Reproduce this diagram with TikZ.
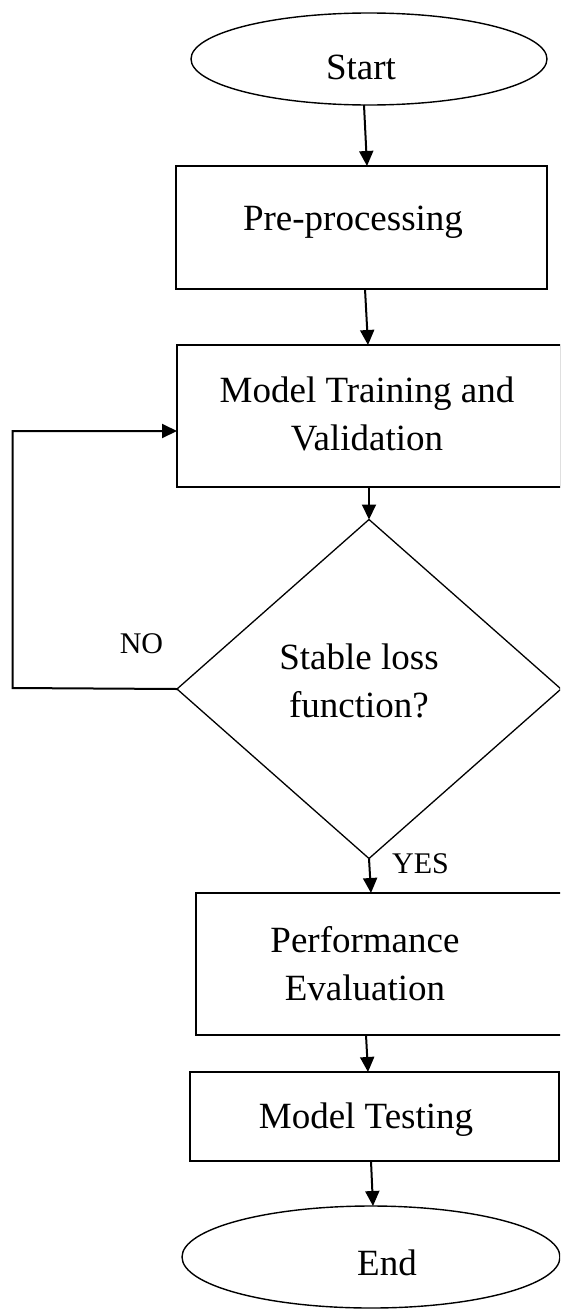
\documentclass[tikz,border=0pt]{standalone}
\usepackage{fontspec}
\setmainfont{Liberation Serif}
\usetikzlibrary{shapes.geometric,arrows.meta}
\begin{document}
\begin{tikzpicture}[x=1pt,y=-1pt,
  box/.style={draw, rectangle, line width=1.8pt, inner sep=0pt, outer sep=0pt},
  terminal/.style={draw, ellipse, line width=1.4pt, inner sep=0pt, outer sep=0pt},
  decision/.style={draw, diamond, line width=1.3pt, inner sep=0pt, outer sep=0pt},
  txt/.style={font={\fontsize{37pt}{48pt}\selectfont}, inner sep=0pt, align=center},
  oneline/.style={txt, text height=25pt, text depth=8pt},
  tag/.style={font={\fontsize{30pt}{36pt}\selectfont}, inner sep=0pt, text height=20pt, text depth=6pt},
  flow/.style={line width=2pt, -{Triangle[length=15pt,width=14pt]}}
]
\path[use as bounding box] (0,0) rectangle (560,1309);
\clip (0,0) rectangle (560,1309);

% shapes
\node[terminal, minimum width=356pt, minimum height=92pt] (start) at (369,59) {};
\node[box, minimum width=371pt, minimum height=123pt] (pre) at (361.5,227.5) {};
\node[box, minimum width=384pt, minimum height=142pt] (train) at (369,416) {};
\node[decision, minimum width=384pt, minimum height=339pt] (dec) at (369,689) {};
\node[box, minimum width=366pt, minimum height=142pt] (perf) at (379,964) {};
\node[box, minimum width=369pt, minimum height=89pt] (test) at (374.5,1116.5) {};
\node[terminal, minimum width=378pt, minimum height=102pt] (stop) at (371,1257) {};

% texts
\node[oneline] (start-t) at (361,70.5) {Start};
\node[oneline] (pre-t) at (353,221.5) {Pre-processing};
\node[txt] (train-t) at (367,413.5) {Model Training and\\Validation};
\node[txt] (dec-t) at (359,680.5) {Stable loss\\function?};
\node[txt] (perf-t) at (365,963.5) {Performance\\Evaluation};
\node[oneline] (test-t) at (366,1119.5) {Model Testing};
\node[oneline] (stop-t) at (387,1266.5) {End};
\node[tag] (no-t) at (141.5,646) {NO};
\node[tag] (yes-t) at (420.5,866) {YES};

% connectors
\draw[flow] ([xshift=-5pt]start.south) -- ([xshift=5.5pt]pre.north);
\draw[flow] ([xshift=3.5pt]pre.south) -- ([xshift=-1pt]train.north);
\draw[flow] (train.south) -- (dec.north);
\draw[flow] (dec.south) -- ([xshift=-8pt]perf.north);
\draw[flow] ([xshift=-13pt]perf.south) -- ([xshift=-6.5pt]test.north);
\draw[flow] ([xshift=-3.5pt]test.south) -- ([xshift=2pt]stop.north);
\coordinate (loop) at (12.5,688);
\draw[flow] (dec.west) -- (loop) |- ([yshift=-15pt]train.west);
\end{tikzpicture}
\end{document}
